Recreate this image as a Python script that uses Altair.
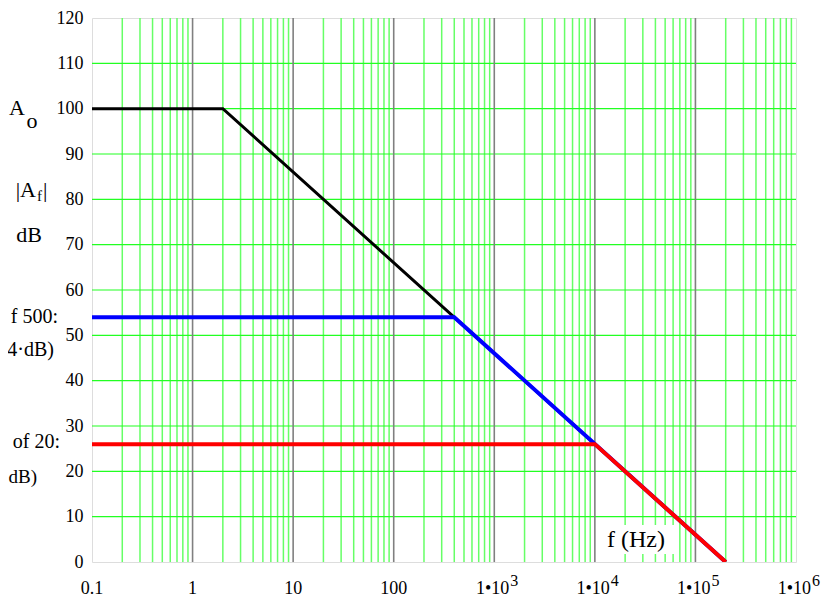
import altair as alt
import pandas as pd

# ---- data ----
black_f = [0.1, 2, 2e5]
black_db = [100, 100, 0]
blue_f = [0.1, 400, 2e5]
blue_db = [54, 54, 0]
red_f = [0.1, 1e4, 2e5]
red_db = [26, 26, 0]

decade_lines = [1, 10, 100, 1e3, 1e4, 1e5]
decade_starts = [0.1, 1, 10, 100, 1e3, 1e4, 1e5]
minor_mult = [2, 3, 4, 5, 6, 7, 8, 9]
y_grid = [10, 20, 30, 40, 50, 60, 70, 80, 90, 100, 110]
y_ticks = [0, 10, 20, 30, 40, 50, 60, 70, 80, 90, 100, 110, 120]

x_plain_vals = [0.1, 1, 10, 100]
x_plain_text = ["0.1", "1", "10", "100"]
x_exp_vals = [1e3, 1e4, 1e5, 1e6]
x_exp_mant = ["1•10", "1•10", "1•10", "1•10"]
x_exp_pow = ["3", "4", "5", "6"]

W, H = 704, 544
SERIF = "Liberation Serif"

xs = alt.Scale(type="log", domain=[0.1, 1e6], nice=False)
ys = alt.Scale(domain=[0, 120], nice=False)
yaxis = alt.Axis(values=y_ticks, grid=False, ticks=False, domain=False, title=None,
                 labelFont=SERIF, labelFontSize=18, labelColor="black", labelPadding=9)

minor_df = pd.DataFrame({"f": [d * m for d in decade_starts for m in minor_mult]})
major_df = pd.DataFrame({"f": decade_lines})
hgrid_df = pd.DataFrame({"db": y_grid})

minor = alt.Chart(minor_df).mark_rule(color="#66ff66", strokeWidth=1.5).encode(
    x=alt.X("f:Q", scale=xs, axis=None), y=alt.value(0), y2=alt.value(H))
hgrid = alt.Chart(hgrid_df).mark_rule(color="#22ff22", strokeWidth=1.2).encode(
    y=alt.Y("db:Q", scale=ys, axis=yaxis), x=alt.value(0), x2=alt.value(W))
major = alt.Chart(major_df).mark_rule(color="#808080", strokeWidth=1.6).encode(
    x=alt.X("f:Q", scale=xs, axis=None), y=alt.value(0), y2=alt.value(H))

def curve(fs, dbs, color, sw):
    df = pd.DataFrame({"f": fs, "db": dbs, "i": list(range(len(fs)))})
    return alt.Chart(df).mark_line(color=color, strokeWidth=sw, clip=True).encode(
        x=alt.X("f:Q", scale=xs, axis=None),
        y=alt.Y("db:Q", scale=ys, axis=yaxis),
        order="i:Q")

black = curve(black_f, black_db, "black", 3)
blue = curve(blue_f, blue_db, "#0000ff", 4)
red = curve(red_f, red_db, "#ff0000", 4)

# x tick labels
plain_df = pd.DataFrame({"f": x_plain_vals, "t": x_plain_text})
exp_df = pd.DataFrame({"f": x_exp_vals, "t": x_exp_mant, "p": x_exp_pow})
lab_plain = alt.Chart(plain_df).mark_text(font=SERIF, fontSize=18, align="center",
                                          baseline="middle", color="black").encode(
    x=alt.X("f:Q", scale=xs, axis=None), y=alt.value(H + 27), text="t:N")
lab_mant = alt.Chart(exp_df).mark_text(font=SERIF, fontSize=18, align="right",
                                       baseline="middle", color="black", dx=15).encode(
    x=alt.X("f:Q", scale=xs, axis=None), y=alt.value(H + 27), text="t:N")
lab_pow = alt.Chart(exp_df).mark_text(font=SERIF, fontSize=16, align="left",
                                      baseline="middle", color="black", dx=16).encode(
    x=alt.X("f:Q", scale=xs, axis=None), y=alt.value(H + 19), text="p:N")

def note(txt, px, py, size=18, align="center"):
    return alt.Chart(pd.DataFrame({"t": [txt]})).mark_text(
        font=SERIF, fontSize=size, align=align, baseline="middle", color="black").encode(
        x=alt.value(px), y=alt.value(py), text="t:N")

bg = alt.Chart(pd.DataFrame({"t": ["bg"]})).mark_rect(color="white").encode(
    x=alt.value(504), x2=alt.value(582), y=alt.value(507), y2=alt.value(536))

notes = [
    note("A", -75, 90, 22),
    note("o", -60, 103, 22),
    note("|A", -56, 172, 22, "right"),
    note("f", -55, 178, 15, "left"),
    note("|", -49, 172, 22, "left"),
    note("dB", -63, 217, 22),
    note("f 500:", -34, 299, 20, "right"),
    note("4·dB)", -38, 332, 20, "right"),
    note("of 20:", -32, 424, 20, "right"),
    note("dB)", -55, 459, 19, "right"),
    note("f (Hz)", 544, 522, 24),
]

chart = alt.layer(minor, hgrid, major, bg, black, blue, red,
                  lab_plain, lab_mant, lab_pow, *notes).properties(
    width=W, height=H,
    autosize=alt.AutoSizeParams(type="none"),
    padding={"left": 84, "top": 10, "right": 27, "bottom": 36},
).configure_view(stroke="black", strokeWidth=2).configure(background="white")

chart.save("out.html", embed_options={"renderer": "svg", "actions": False})
